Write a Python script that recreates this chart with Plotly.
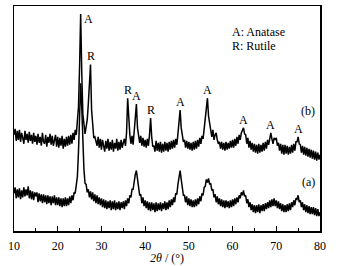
import numpy as np
import plotly.graph_objects as go

# 2theta sampling grid (degrees), step 0.25 from 10 to 80
two_theta = np.round(np.arange(10.0, 80.0001, 0.25), 2)

# Sample (b): intensity (arbitrary units)
intensity_b = [
    97, 103, 91, 101, 92, 102, 90, 99, 94, 88, 101, 92, 98, 89, 100, 91, 97, 88, 99, 90,
    96, 87, 98, 89, 95, 86, 99, 90, 88, 97, 85, 95, 89, 98, 87, 96, 86, 94, 97, 85,
    95, 84, 94, 86, 96, 83, 93, 85, 95, 86, 96, 87, 97, 88, 99, 92, 102, 97, 109, 125,
    165, 219, 160, 118, 108, 98, 105, 112, 128, 148, 168, 122, 104, 94, 95, 90, 86, 95, 84, 93,
    82, 92, 85, 80, 91, 83, 93, 81, 90, 82, 92, 80, 89, 83, 93, 81, 90, 82, 92, 84,
    89, 93, 86, 99, 134, 108, 97, 88, 96, 87, 99, 110, 128, 104, 98, 89, 96, 86, 94, 85,
    92, 84, 93, 86, 97, 114, 95, 85, 86, 80, 91, 81, 89, 80, 90, 79, 88, 80, 90, 81,
    89, 80, 90, 82, 91, 83, 92, 84, 93, 87, 98, 108, 122, 104, 98, 90, 92, 84, 91, 83,
    90, 82, 89, 81, 90, 82, 91, 83, 92, 85, 94, 88, 96, 93, 103, 112, 124, 134, 116, 108,
    103, 95, 102, 92, 97, 99, 92, 88, 90, 83, 90, 82, 89, 81, 90, 82, 89, 83, 91, 84,
    92, 84, 93, 86, 95, 88, 97, 92, 99, 101, 104, 98, 97, 88, 94, 84, 91, 82, 89, 80,
    88, 79, 87, 78, 88, 79, 87, 80, 89, 81, 90, 83, 92, 87, 96, 99, 93, 88, 94, 92,
    94, 86, 89, 81, 88, 78, 87, 77, 87, 78, 86, 77, 85, 78, 87, 79, 88, 81, 90, 90,
    95, 88, 87, 79, 86, 77, 85, 76, 84, 75, 83, 74, 82, 73, 81, 72, 80, 71, 79, 72,
    77,
]

# Sample (a): intensity (arbitrary units)
intensity_a = [
    38, 44, 33, 42, 34, 43, 32, 41, 34, 44, 35, 42, 36, 45, 33, 41, 32, 40, 31, 39,
    35, 39, 29, 38, 30, 37, 28, 37, 29, 36, 27, 36, 28, 35, 26, 35, 28, 36, 26, 34,
    26, 34, 25, 33, 24, 33, 25, 34, 25, 33, 26, 35, 28, 36, 31, 39, 38, 48, 55, 80,
    118, 149, 125, 88, 62, 48, 47, 39, 42, 34, 40, 32, 39, 30, 37, 28, 36, 27, 34, 26,
    33, 24, 32, 23, 31, 22, 30, 23, 31, 21, 30, 22, 31, 21, 29, 22, 30, 21, 29, 23,
    30, 22, 31, 25, 33, 28, 36, 34, 42, 42, 52, 57, 61, 53, 46, 36, 37, 28, 34, 25,
    31, 23, 30, 21, 29, 20, 29, 21, 28, 19, 29, 20, 28, 21, 29, 20, 28, 22, 30, 21,
    29, 22, 31, 24, 32, 26, 34, 29, 38, 37, 47, 55, 61, 52, 45, 36, 36, 29, 35, 26,
    33, 25, 32, 24, 31, 24, 32, 25, 33, 27, 35, 30, 38, 36, 44, 45, 52, 49, 53, 47,
    48, 41, 42, 34, 37, 29, 35, 27, 33, 25, 32, 24, 31, 23, 31, 24, 30, 23, 31, 24,
    32, 25, 33, 27, 34, 29, 36, 33, 39, 36, 41, 35, 36, 28, 32, 24, 29, 21, 27, 19,
    26, 18, 26, 19, 27, 18, 26, 20, 27, 20, 28, 22, 29, 23, 31, 24, 32, 25, 33, 25,
    31, 23, 30, 22, 28, 20, 27, 19, 26, 19, 27, 20, 28, 21, 29, 24, 31, 26, 33, 32,
    36, 29, 31, 24, 29, 21, 27, 19, 26, 18, 25, 17, 24, 17, 24, 16, 23, 15, 22, 15,
    19,
]

# Peak annotations on curve (b)
peak_pos = [25.25, 27.5, 36.0, 38.0, 41.25, 48.0, 54.25, 62.5, 68.75, 75.0]
peak_lbl = ["A", "R", "R", "A", "R", "A", "A", "A", "A", "A"]

x_ticks = [10, 20, 30, 40, 50, 60, 70, 80]

FONT = "Liberation Serif, Times New Roman, serif"
TXT = dict(family=FONT, size=12, color="black")

fig = go.Figure()
for ys in (intensity_a, intensity_b):
    fig.add_trace(go.Scatter(x=two_theta, y=ys, mode="lines",
                             line=dict(color="black", width=1.5),
                             showlegend=False, hoverinfo="skip"))

annotations = []
for p, lbl in zip(peak_pos, peak_lbl):
    idx = int(round((p - 10.0) / 0.25))
    yv = intensity_b[idx]
    if p == 25.25:
        annotations.append(dict(x=p, y=yv, text=lbl, showarrow=False, font=TXT,
                                xanchor="left", yanchor="top", xshift=1, yshift=4))
    else:
        annotations.append(dict(x=p, y=yv, text=lbl, showarrow=False, font=TXT,
                                xanchor="center", yanchor="bottom", yshift=-1))

annotations += [
    dict(x=77.3, y=121, text="(b)", showarrow=False, font=TXT, xanchor="center", yanchor="middle"),
    dict(x=77.3, y=49, text="(a)", showarrow=False, font=TXT, xanchor="center", yanchor="middle"),
    dict(x=59.5, y=201, text="A: Anatase", showarrow=False, font=TXT, xanchor="left", yanchor="middle"),
    dict(x=59.5, y=187, text="R: Rutile", showarrow=False, font=TXT, xanchor="left", yanchor="middle"),
    dict(x=0.5, y=-0.119, xref="paper", yref="paper", text="<i>2θ</i> / (°)", font=TXT,
         showarrow=False, xanchor="center", yanchor="middle"),
]

fig.update_layout(
    width=349, height=266,
    margin=dict(l=14, r=29, t=4, b=35),
    paper_bgcolor="white", plot_bgcolor="white",
    font=TXT,
    hovermode=False,
    annotations=annotations,
    xaxis=dict(
        range=[10, 80], tickvals=x_ticks, ticks="inside", ticklen=5, tickwidth=1,
        tickcolor="black", showline=True, linecolor="black", linewidth=1.5,
        mirror=True, showgrid=False, zeroline=False, ticklabelstandoff=3,
        minor=dict(dtick=5, ticks="inside", ticklen=3, tickcolor="black", showgrid=False),
        tickfont=TXT,
    ),
    yaxis=dict(
        range=[0, 227], showticklabels=False, ticks="", showline=True,
        linecolor="black", linewidth=1.5, mirror=True, showgrid=False, zeroline=False,
    ),
)

fig.write_html("out.html", config={"displayModeBar": False, "staticPlot": True},
               post_script="document.body.style.margin='0';document.body.style.padding='0';")
